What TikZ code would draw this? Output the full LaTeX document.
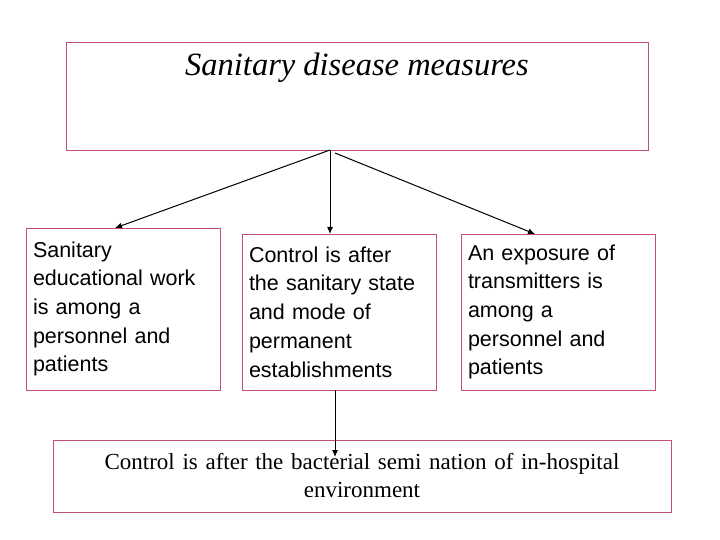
\documentclass[tikz,border=0pt]{standalone}
\usepackage{fontspec}
\setmainfont{Liberation Serif}
\setsansfont{Liberation Sans}
\usetikzlibrary{arrows.meta}
\begin{document}
\begin{tikzpicture}[x=1pt,y=-1pt,
  box/.style={draw=pinkb,line width=0.8pt,inner xsep=7pt,inner ysep=0pt,font=\sffamily\fontsize{21.5}{28.7}\selectfont},
  arr/.style={-{Latex[length=7pt,width=6pt]},line width=1pt}]
\definecolor{pinkb}{RGB}{196,80,120}
\useasboundingbox (0,0) rectangle (720,540);
\draw[draw=pinkb,line width=0.8pt] (66,42) rectangle (648,150);
\node[font=\fontsize{32.5}{36}\selectfont\itshape] (title) at (357,68) {Sanitary disease measures};
\coordinate (top) at (330,150);
\coordinate (top2) at (335,153);
\node[box,minimum width=186pt,minimum height=162pt,text width=180pt,align=left] (b1) at (123,309) {Sanitary\\educational work\\is among a\\personnel and\\patients};
\node[box,minimum width=186pt,minimum height=156pt,text width=180pt,align=left] (b2) at (339,312) {Control is after\\the sanitary state\\and mode of\\permanent\\establishments};
\node[box,minimum width=192pt,minimum height=156pt,text width=180pt,align=left] (b3) at (558,312) {An exposure of\\transmitters is\\among a\\personnel and\\patients};
\node[box,font=\fontsize{23}{28}\selectfont,minimum width=618pt,minimum height=72pt,text width=600pt,align=center] (b4) at (362,476) {Control is after the bacterial semi nation of in-hospital\\environment};
\coordinate (t1) at (115,228);
\coordinate (t3) at (535,234);
\coordinate (s4) at (335,390);
\coordinate (e4) at (335,457);
\draw[arr] (top) -- (t1);
\draw[arr] (top) -- (330,234);
\draw[arr] (top2) -- (t3);
\draw[arr] (s4) -- (e4);
\end{tikzpicture}
\end{document}
